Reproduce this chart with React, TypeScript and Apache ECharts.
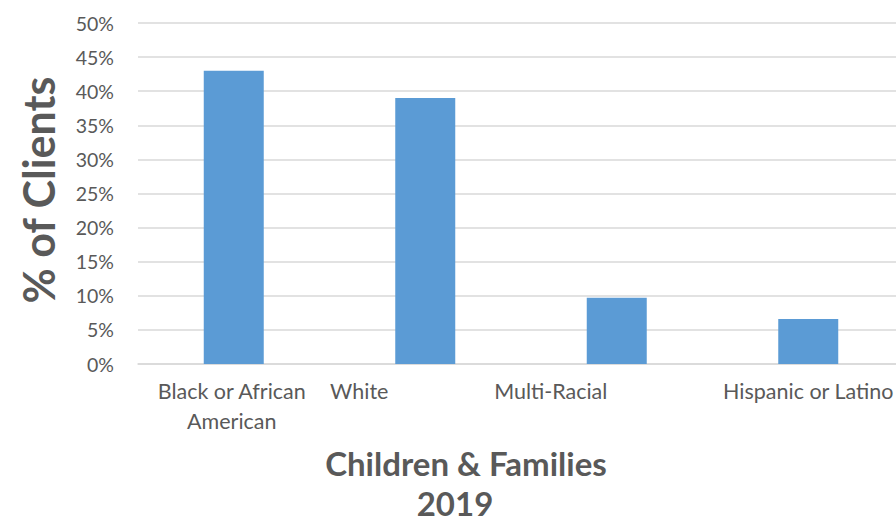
import React, { useEffect, useRef } from "react";
import * as echarts from "echarts";

const categories = ["Black or African\nAmerican", "White", "Multi-Racial", "Hispanic or Latino"];
const values = [0.43, 0.39, 0.097, 0.066];
const yTicks = { min: 0, max: 0.5, interval: 0.05 };
const xTitle = "Children & Families";
const xSubtitle = "2019";
const yTitle = "% of Clients";

// horizontal label shift (px, positive = to the left) as seen in the reference
const labelShift = [4, 132, 132, 0];

const FONT = "Lato, 'Open Sans', sans-serif";
const GRAY = "#595959";

export default function App() {
  const ref = useRef<HTMLDivElement>(null);
  useEffect(() => {
    document.body.style.margin = "0";
    const chart = echarts.init(ref.current!, null, { renderer: "svg" });
    chart.setOption({
      animation: false,
      grid: {
        left: 138,
        top: 23,
        right: -8,
        bottom: 161,
        containLabel: false,
        outerBoundsMode: "none",
      },
      xAxis: {
        type: "category",
        data: categories.map((c, i) => ({
          value: c,
          textStyle: { padding: [0, labelShift[i], 0, 0] },
        })),
        axisTick: { show: false },
        axisLine: { show: true, lineStyle: { color: "#d9d9d9", width: 1.5 } },
        axisLabel: {
          color: GRAY,
          fontFamily: FONT,
          fontSize: 21.5,
          lineHeight: 30,
          margin: 12,
          interval: 0,
          hideOverlap: false,
        },
      },
      yAxis: {
        type: "value",
        min: yTicks.min,
        max: yTicks.max,
        interval: yTicks.interval,
        axisLine: { show: false },
        axisTick: { show: false },
        splitLine: { lineStyle: { color: "#d9d9d9", width: 1.5 } },
        axisLabel: {
          color: GRAY,
          fontFamily: FONT,
          fontSize: 19.5,
          margin: 24,
          formatter: (v: number) => Math.round(v * 100) + "%",
        },
      },
      series: [
        {
          type: "bar",
          data: values,
          barWidth: 60,
          itemStyle: { color: "#5b9bd5" },
        },
      ],
      graphic: [
        {
          type: "text",
          x: 466,
          y: 463,
          style: {
            text: xTitle,
            font: `bold 33px ${FONT}`,
            fill: GRAY,
            textAlign: "center",
            textVerticalAlign: "middle",
          },
        },
        {
          type: "text",
          x: 455,
          y: 503,
          style: {
            text: xSubtitle,
            font: `bold 33px ${FONT}`,
            fill: GRAY,
            textAlign: "center",
            textVerticalAlign: "middle",
          },
        },
        {
          type: "text",
          x: 38,
          y: 190,
          rotation: Math.PI / 2,
          style: {
            text: yTitle,
            font: `bold 43px ${FONT}`,
            fill: GRAY,
            textAlign: "center",
            textVerticalAlign: "middle",
          },
        },
      ],
    });
    return () => chart.dispose();
  }, []);
  return <div ref={ref} style={{ position: "absolute", left: 0, top: 0, width: 896, height: 525 }} />;
}
